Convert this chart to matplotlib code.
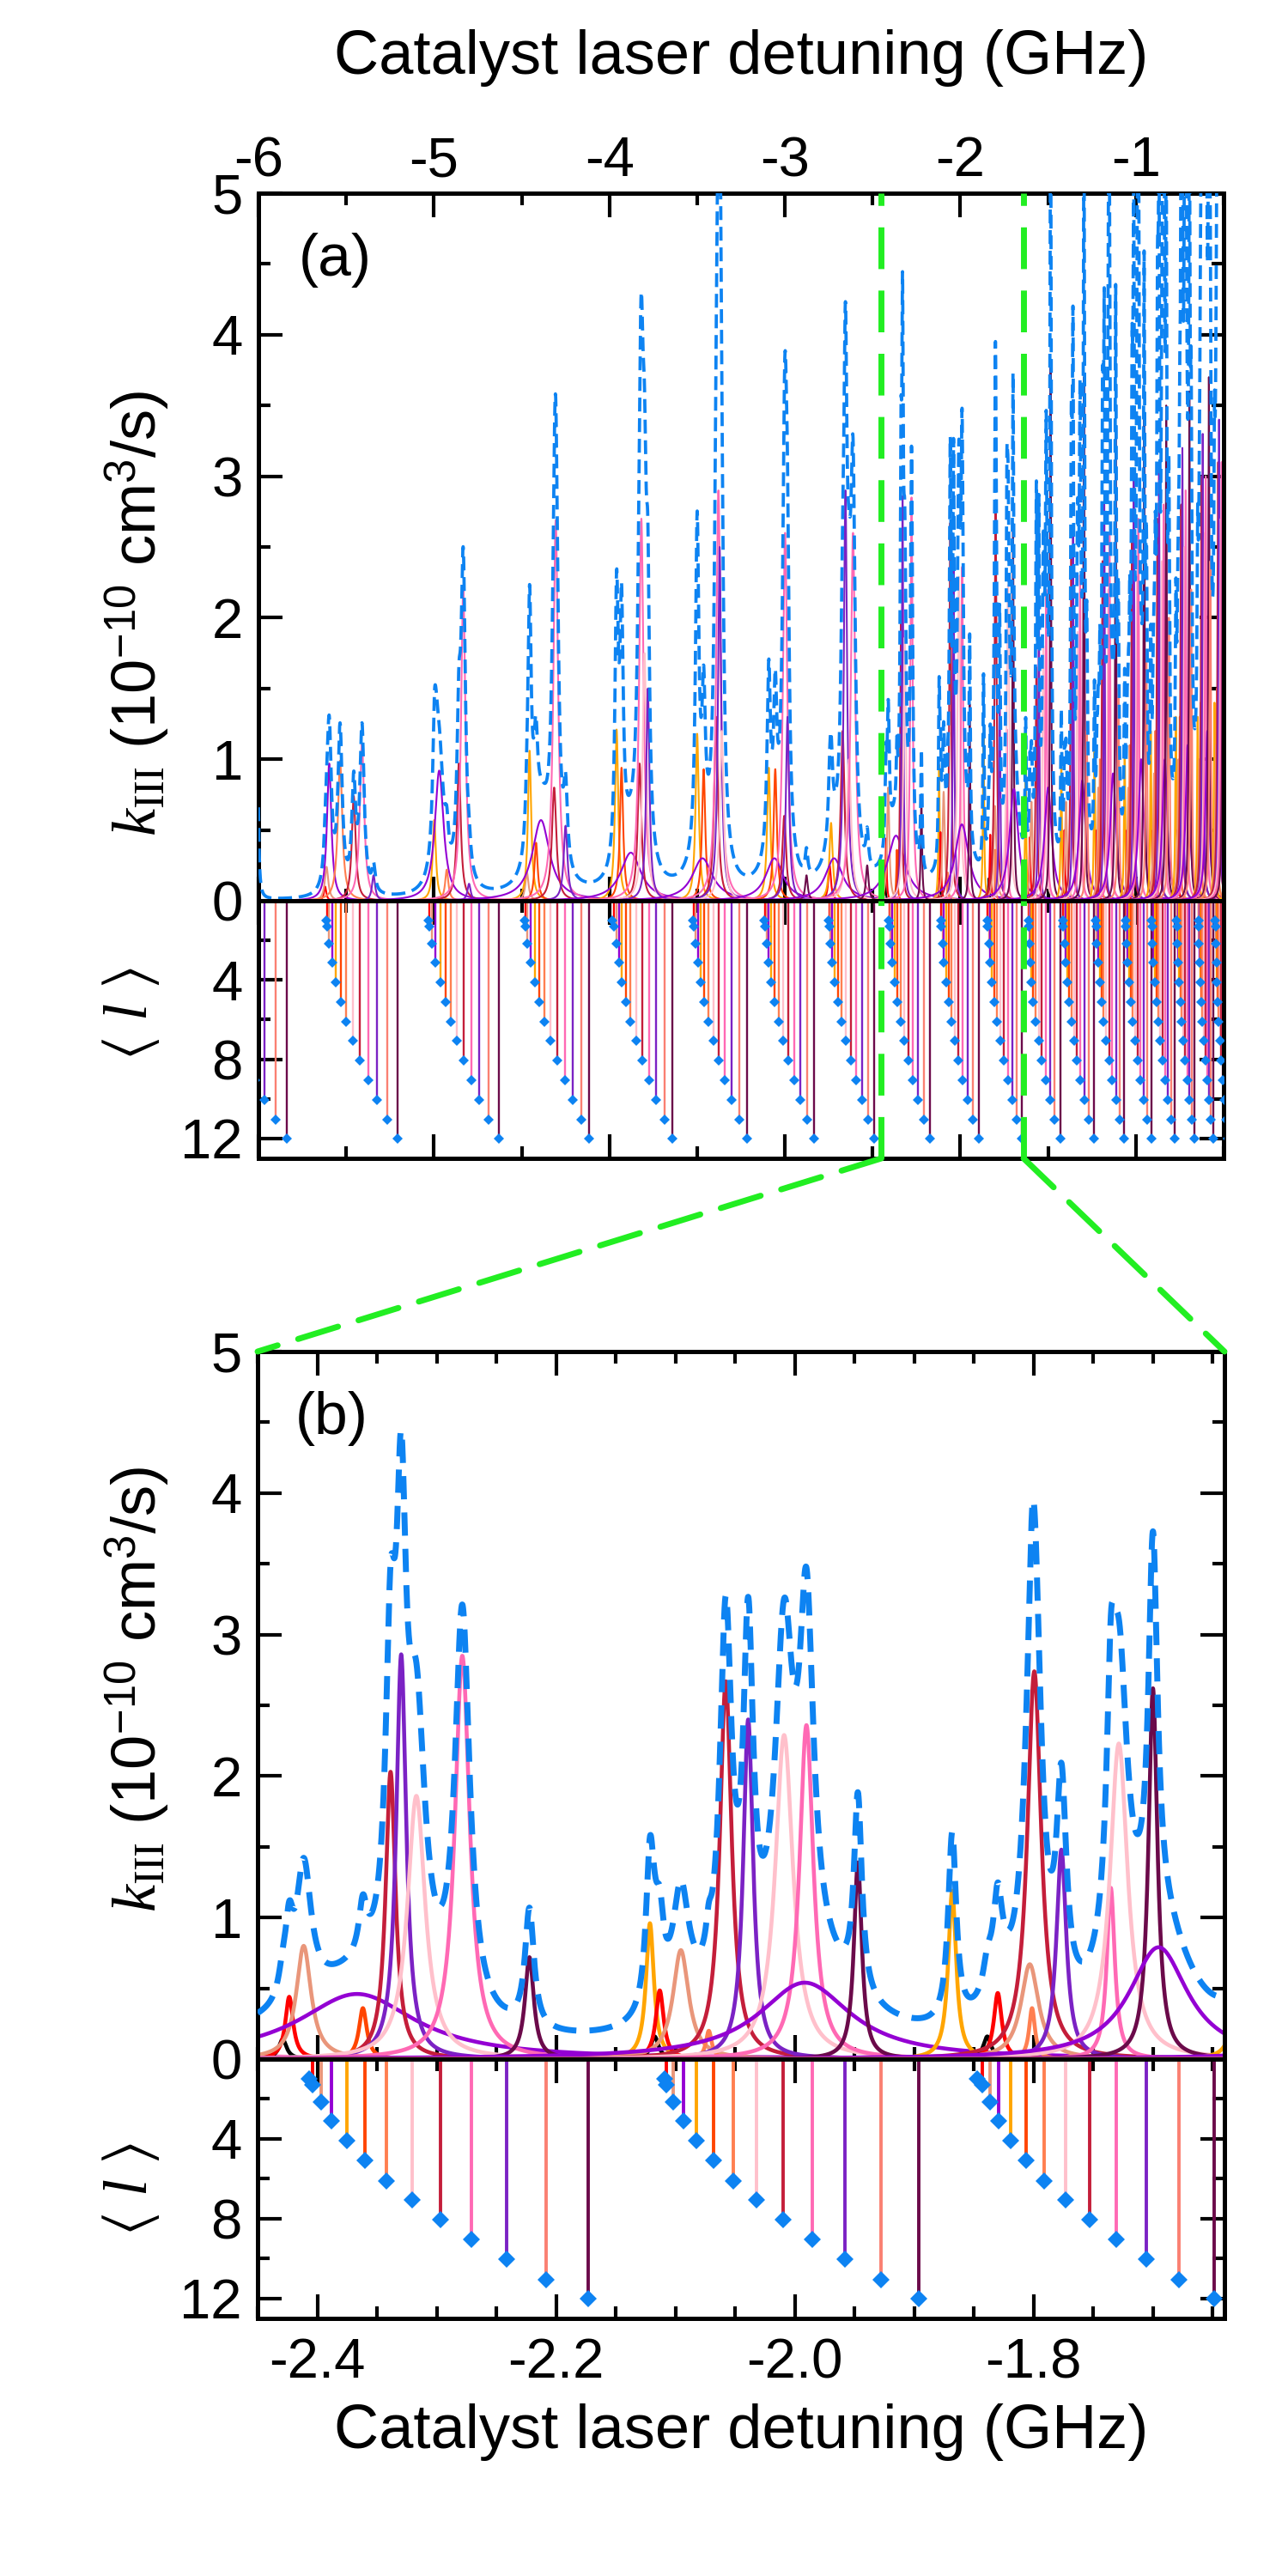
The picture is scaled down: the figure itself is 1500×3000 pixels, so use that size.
import numpy as np
import matplotlib
matplotlib.use("Agg")
import matplotlib.pyplot as plt
from matplotlib.patches import ConnectionPatch
from matplotlib.ticker import MultipleLocator, FixedLocator, FuncFormatter

plt.rcParams.update({
    "font.family": ["Liberation Sans", "DejaVu Sans"],
    "mathtext.fontset": "custom",
    "mathtext.rm": "Liberation Serif",
    "mathtext.it": "Liberation Serif:italic",
    "mathtext.sf": "Liberation Sans",
    "mathtext.fallback": "stix",
    "axes.unicode_minus": False,
})

# ------------------------------------------------------------------ data
# colour of each partial wave l = 0..12
level_colors = ["#000000", "#FF0000", "#E9967A", "#9400D3", "#FFA500", "#FF4500",
                "#FF7F50", "#FFC0CB", "#C41E3A", "#FF69B4", "#7B22C4", "#FA8072", "#6B0A4A"]
# <l> of the resonance of each l (depth of the stems)
mean_l = [1.0, 1.3, 2.15, 3.1, 4.1, 5.1, 6.1, 7.05, 8.05, 9.05, 10.05, 11.05, 12.0]

# stem positions (GHz) for l = 0..12, one row per vibrational group
stem_groups = [
    [-6.267, -6.262, -6.250, -6.233, -6.211, -6.183, -6.150, -6.111, -6.067, -6.018, -5.964, -5.902, -5.837],
    [-5.614, -5.609, -5.598, -5.581, -5.560, -5.532, -5.500, -5.461, -5.421, -5.374, -5.325, -5.266, -5.206],
    [-5.031, -5.026, -5.010, -4.990, -4.963, -4.935, -4.905, -4.872, -4.831, -4.787, -4.741, -4.689, -4.632],
    [-4.483, -4.479, -4.466, -4.448, -4.425, -4.400, -4.370, -4.334, -4.297, -4.255, -4.211, -4.162, -4.114],
    [-3.983, -3.975, -3.958, -3.947, -3.929, -3.906, -3.880, -3.848, -3.814, -3.774, -3.734, -3.687, -3.641],
    [-3.526, -3.518, -3.507, -3.497, -3.481, -3.458, -3.437, -3.409, -3.377, -3.343, -3.304, -3.261, -3.214],
    [-3.118, -3.114, -3.102, -3.093, -3.080, -3.061, -3.036, -3.009, -2.980, -2.947, -2.911, -2.874, -2.833],
    [-2.751, -2.748, -2.740, -2.730, -2.715, -2.697, -2.678, -2.653, -2.626, -2.593, -2.561, -2.527, -2.491],
    [-2.4070, -2.4038, -2.3967, -2.3883, -2.3754, -2.3603, -2.3420, -2.3207, -2.2969, -2.2708, -2.2412, -2.2084, -2.1730],
    [-2.1093, -2.1077, -2.1018, -2.0932, -2.0825, -2.0681, -2.0513, -2.0320, -2.0101, -1.9853, -1.9579, -1.9280, -1.8960],
    [-1.8472, -1.8432, -1.8365, -1.8293, -1.8192, -1.8064, -1.7912, -1.7731, -1.7530, -1.7304, -1.7053, -1.6778, -1.6485],
    [-1.613, -1.610, -1.607, -1.602, -1.597, -1.586, -1.574, -1.553, -1.537, -1.515, -1.488, -1.464, -1.431],
    [-1.415, -1.413, -1.406, -1.398, -1.390, -1.382, -1.368, -1.349, -1.336, -1.317, -1.292, -1.268, -1.238],
    [-1.228, -1.226, -1.222, -1.215, -1.207, -1.196, -1.184, -1.169, -1.153, -1.134, -1.114, -1.091, -1.066],
    [-1.058, -1.056, -1.052, -1.046, -1.039, -1.030, -1.018, -1.005, -0.990, -0.973, -0.955, -0.934, -0.912],
    [-0.909, -0.907, -0.904, -0.899, -0.892, -0.884, -0.873, -0.862, -0.848, -0.833, -0.817, -0.798, -0.778],
    [-0.767, -0.766, -0.763, -0.759, -0.754, -0.747, -0.739, -0.730, -0.719, -0.707, -0.694, -0.680, -0.664],
    [-0.643, -0.642, -0.640, -0.636, -0.632, -0.626, -0.620, -0.612, -0.604, -0.594, -0.583, -0.571, -0.558],
    [-0.547, -0.546, -0.544, -0.541, -0.538, -0.533, -0.527, -0.521, -0.514, -0.505, -0.496, -0.486, -0.475],
]

# resonances in k_III: position (GHz), peak height (1e-10 cm^3/s), half width (GHz), l
res_x = [
    -5.620, -5.612, -5.597, -5.535, -5.457, -5.410, -5.344,
    -4.998, -4.970, -4.927, -4.858, -4.833, -4.800,
    -4.470, -4.455, -4.418, -4.390, -4.315, -4.306, -4.250,
    -3.959, -3.931, -3.878, -3.828, -3.818, -3.800, -3.781,
    -3.500, -3.463, -3.470, -3.392, -3.379, -3.372, -3.360,
    -3.092, -3.055, -3.060, -3.004, -2.999, -2.985, -2.877,
    -2.745, -2.737, -2.720, -2.671, -2.655, -2.635, -2.612, -2.531,
    -2.4290, -2.4235, -2.4114, -2.3667, -2.3618, -2.3386, -2.3297, -2.3170, -2.2785, -2.2223,
    -2.1213, -2.1174, -2.1131, -2.0954, -2.0720, -2.0578, -2.0390, -2.0089, -1.9902, -1.9916, -1.9471,
    -1.8681, -1.8387, -1.8299, -1.8031, -1.8012, -1.7993, -1.7766, -1.7352, -1.7285, -1.6999, -1.6952,
    -1.628, -1.604, -1.595, -1.567, -1.553, -1.527, -1.511, -1.500, -1.486,
    -1.425, -1.407, -1.398, -1.368, -1.358, -1.332, -1.318, -1.305, -1.296, -1.280,
    -1.236, -1.222, -1.214, -1.205, -1.190, -1.180, -1.157, -1.150, -1.130, -1.115, -1.100,
    -1.064, -1.050, -1.043, -1.035, -1.022, -1.012, -0.993, -0.986, -0.970, -0.953, -0.940,
    -0.915, -0.902, -0.896, -0.889, -0.877, -0.868, -0.851, -0.842, -0.835, -0.827, -0.812,
    -0.772, -0.762, -0.757, -0.750, -0.742, -0.735, -0.722, -0.716, -0.705, -0.695, -0.685,
    -0.648, -0.638, -0.632, -0.625, -0.619, -0.607, -0.602, -0.593, -0.584, -0.576,
    -0.552, -0.543, -0.538, -0.531, -0.526, -0.516, -0.511, -0.503,
]
res_k = [
    0.10, 0.24, 0.97, 0.99, 0.74, 1.11, 0.18,
    0.57, 0.92, 0.22, 0.97, 2.20, 0.12,
    0.20, 1.06, 0.41, 0.57, 0.80, 2.69, 0.53,
    1.21, 0.94, 0.34, 0.97, 2.70, 1.75, 1.50,
    1.18, 0.93, 0.30, 1.30, 2.90, 2.50, 1.20,
    0.94, 0.93, 0.30, 0.60, 2.60, 1.30, 0.18,
    0.25, 0.55, 0.30, 1.20, 2.90, 1.00, 2.60, 0.25,
    0.14, 0.44, 0.80, 0.46, 0.36, 2.03, 2.86, 1.86, 2.85, 0.72,
    0.96, 0.16, 0.485, 0.77, 0.20, 2.67, 2.40, 2.29, 2.36, 0.54, 1.39,
    1.19, 0.16, 0.467, 0.67, 0.36, 2.74, 1.48, 1.21, 2.23, 2.62, 0.79,
    0.95, 0.45, 0.70, 1.65, 2.10, 1.80, 2.20, 0.80, 3.77,
    1.00, 0.50, 0.70, 2.50, 2.60, 1.90, 2.30, 0.85, 3.70, 1.20,
    1.10, 0.50, 0.80, 1.00, 2.40, 2.80, 2.20, 2.60, 0.90, 3.30, 1.50,
    1.10, 0.50, 0.80, 1.10, 2.60, 3.00, 2.30, 2.70, 1.00, 3.40, 1.70,
    1.20, 0.50, 0.90, 1.20, 2.70, 3.10, 2.40, 2.80, 1.00, 3.50, 2.00,
    1.30, 0.50, 1.00, 1.30, 2.80, 3.20, 2.50, 2.90, 1.10, 3.60, 2.20,
    1.30, 1.00, 1.40, 3.00, 3.30, 2.60, 3.00, 1.20, 3.70, 2.40,
    1.40, 1.10, 1.50, 3.10, 3.40, 2.70, 3.10, 3.80,
]
res_w = [
    .008, .012, .015, .015, .013, .015, .011,
    .011, .030, .011, .013, .015, .011,
    .011, .011, .011, .060, .015, .016, .013,
    .011, .011, .070, .013, .015, .013, .011,
    .011, .011, .070, .013, .015, .011, .013,
    .011, .011, .060, .013, .015, .011, .009,
    .009, .011, .060, .013, .011, .015, .015, .009,
    .004, .004, .0075, .060, .004, .005, .005, .009, .0075, .0045,
    .004, .004, .004, .008, .003, .006, .005, .009, .007, .047, .004,
    .004, .004, .004, .009, .003, .007, .005, .004, .009, .0045, .030,
    .004, .004, .007, .005, .004, .007, .005, .025, .004,
    .004, .004, .007, .005, .004, .007, .005, .022, .004, .005,
    .004, .004, .006, .004, .005, .004, .006, .005, .020, .004, .005,
    .004, .004, .006, .004, .005, .004, .006, .005, .018, .004, .005,
    .004, .004, .006, .004, .005, .004, .006, .005, .016, .004, .005,
    .004, .004, .006, .004, .005, .004, .006, .005, .014, .004, .005,
    .004, .006, .004, .005, .004, .006, .005, .012, .004, .005,
    .004, .006, .004, .005, .004, .006, .005, .004,
]
res_l = [
    1, 2, 3, 6, 8, 9, 10,
    4, 3, 6, 8, 9, 10,
    2, 4, 5, 3, 8, 9, 10,
    4, 5, 3, 8, 9, 7, 10,
    4, 5, 3, 8, 9, 10, 7,
    4, 5, 3, 8, 9, 10, 12,
    1, 4, 3, 8, 10, 7, 9, 12,
    0, 1, 2, 3, 5, 8, 10, 7, 9, 12,
    4, 0, 1, 2, 6, 8, 10, 7, 9, 3, 12,
    4, 0, 1, 2, 6, 8, 10, 9, 7, 12, 3,
    4, 1, 2, 8, 10, 7, 9, 3, 12,
    4, 1, 2, 8, 10, 7, 9, 3, 12, 11,
    4, 1, 2, 6, 8, 10, 7, 9, 3, 12, 11,
    4, 1, 2, 6, 8, 10, 7, 9, 3, 12, 11,
    4, 1, 2, 6, 8, 10, 7, 9, 3, 12, 11,
    4, 1, 2, 6, 8, 10, 7, 9, 3, 12, 11,
    4, 2, 6, 8, 10, 7, 9, 3, 12, 11,
    4, 2, 6, 8, 10, 7, 9, 12,
]

# additional contributions present only in the total rate (dashed curve)
extra_x = [-6.006, -5.596, -5.535, -5.410, -4.989, -4.455, -4.425,
           -3.959, -3.931, -3.500, -3.092,
           -2.411, -2.222, -2.121, -2.095, -1.868, -1.830, -1.567, -1.486, -1.361,
           -1.296, -1.155, -1.185, -0.986, -1.015, -0.842, -0.872, -0.716, -0.740, -0.602,
           -0.622, -0.511, -0.530, -0.450]
extra_k = [1.30, 0.15, 0.15, 0.05, 0.45, 0.70, 0.20,
           0.65, 0.70, 1.10, 0.30,
           0.15, 0.12, 0.10, 0.15, 0.15, 0.35, 0.80, 1.40, 0.80,
           0.80, 1.50, 0.80, 1.60, 1.00, 1.70, 1.00, 1.80, 1.20, 1.90,
           1.30, 2.00, 1.40, 1.20]
extra_w = [.006, .015, .015, .012, .015, .012, .015,
           .012, .012, .012, .012,
           .008, .005, .005, .025, .005, .012, .006, .005, .005,
           .005, .005, .005, .005, .005, .005, .005, .005, .005, .005,
           .005, .005, .005, .150]

range_a = [-6.0, -0.5]
range_b = [-2.45, -1.64]
k_max = 5.0
l_max = 13.0

blue = "#0D83F2"
green = "#22EE22"


def lorentz(x, x0, k0, w):
    return k0 / (1.0 + ((x - x0) / w) ** 2)


# ------------------------------------------------------------------ figure
fig = plt.figure(figsize=(15, 30), dpi=100)
W, H = 1500.0, 3000.0
ax_a = fig.add_axes([301 / W, 1 - 1049 / H, 1124 / W, 824 / H])
ax_as = fig.add_axes([301 / W, 1 - 1349 / H, 1124 / W, 300 / H])
ax_b = fig.add_axes([300 / W, 1 - 2398 / H, 1126 / W, 824 / H])
ax_bs = fig.add_axes([300 / W, 1 - 2700 / H, 1126 / W, 302 / H])


def draw_rates(ax, xr, n, lw_solid, lw_dash, dash):
    x = np.linspace(xr[0], xr[1], n)
    total = np.zeros_like(x)
    for x0, k0, w, l in zip(res_x, res_k, res_w, res_l):
        y = lorentz(x, x0, k0, w)
        total += y
        ax.plot(x, y, color=level_colors[l], lw=lw_solid, zorder=2)
    for x0, k0, w in zip(extra_x, extra_k, extra_w):
        total += lorentz(x, x0, k0, w)
    ax.plot(x, total, color=blue, lw=lw_dash, dashes=dash, zorder=3)
    ax.set_xlim(xr)
    ax.set_ylim(0, k_max)


def draw_stems(ax, xr, lw, ms):
    pos = np.array(stem_groups)
    for l in range(1, 13):
        ax.vlines(pos[:, l], 0, mean_l[l], colors=level_colors[l], lw=lw, zorder=2)
    depth = np.tile(mean_l, (pos.shape[0], 1))
    ax.plot(pos.ravel(), depth.ravel(), ls="none", marker="D", ms=ms,
            color=blue, mew=0, zorder=3)
    ax.set_xlim(xr)
    ax.set_ylim(l_max, 0)


draw_rates(ax_a, range_a, 40000, 1.5, 2.7, (4.3, 2.1))
draw_stems(ax_as, range_a, 1.7, 6.5)
draw_rates(ax_b, range_b, 12000, 3.3, 5.0, (3.9, 2.2))
draw_stems(ax_bs, range_b, 2.8, 10.5)

tick_fs = 47
for ax in (ax_a, ax_as, ax_b, ax_bs):
    for s in ax.spines.values():
        s.set_linewidth(3.6)
    ax.tick_params(which="both", direction="in", top=True, bottom=True,
                   left=True, right=True, width=3.0, labelsize=tick_fs)
    ax.tick_params(axis="y", pad=13)
    ax.tick_params(axis="x", pad=16)
    ax.tick_params(which="major", length=20)
    ax.tick_params(which="minor", length=10)

for ax in (ax_a, ax_b):
    ax.yaxis.set_major_locator(MultipleLocator(1))
    ax.yaxis.set_minor_locator(MultipleLocator(0.5))
    ax.yaxis.set_major_formatter(FuncFormatter(lambda v, p: "%d" % round(v)))
for ax in (ax_as, ax_bs):
    ax.yaxis.set_major_locator(FixedLocator([4, 8, 12]))
    ax.yaxis.set_minor_locator(FixedLocator([2, 6, 10]))

for ax in (ax_a, ax_as):
    ax.xaxis.set_major_locator(MultipleLocator(1))
    ax.xaxis.set_minor_locator(MultipleLocator(0.5))
for ax in (ax_b, ax_bs):
    ax.xaxis.set_major_locator(MultipleLocator(0.2))
    ax.xaxis.set_minor_locator(MultipleLocator(0.05))

ax_a.tick_params(axis="x", labeltop=True, labelbottom=False, pad=5)
ax_a.xaxis.set_major_formatter(FuncFormatter(lambda v, p: "%d" % round(v)))
ax_a.xaxis.set_label_position("top")
ax_a.set_xlabel("Catalyst laser detuning (GHz)", fontsize=52, labelpad=52)
ax_as.tick_params(labelbottom=False)
ax_b.tick_params(labelbottom=False)
ax_bs.xaxis.set_major_formatter(FuncFormatter(lambda v, p: "%.1f" % v))
ax_bs.set_xlabel("Catalyst laser detuning (GHz)", fontsize=52, labelpad=12)

klabel = r"$k_{\mathrm{III}}$ (10$^{\mathsf{-10}}$ cm$^{\mathsf{3}}$/s)"
llabel = r"$\langle\ l\ \rangle$"
fig.text(160 / W, 1 - 714 / H, klabel, rotation=90, ha="center", va="center", fontsize=52)
fig.text(152 / W, 1 - 1180 / H, llabel, rotation=90, ha="center", va="center", fontsize=52)
fig.text(160 / W, 1 - 1967 / H, klabel, rotation=90, ha="center", va="center", fontsize=52)
fig.text(152 / W, 1 - 2549 / H, llabel, rotation=90, ha="center", va="center", fontsize=52)

ax_a.text(0.042, 0.905, "(a)", transform=ax_a.transAxes, fontsize=50, ha="left", va="center")
ax_b.text(0.039, 0.905, "(b)", transform=ax_b.transAxes, fontsize=50, ha="left", va="center")

# zoom markers
for xz in range_b:
    for ax in (ax_a, ax_as):
        ax.axvline(xz, color=green, lw=5, dashes=(7, 3.6), zorder=10)
    con = ConnectionPatch(xyA=(xz, l_max), coordsA=ax_as.transData,
                          xyB=(xz, k_max), coordsB=ax_b.transData,
                          color=green, lw=5, linestyle=(0, (7, 3.6)), zorder=10)
    fig.add_artist(con)

fig.savefig("out.png", dpi=100)
